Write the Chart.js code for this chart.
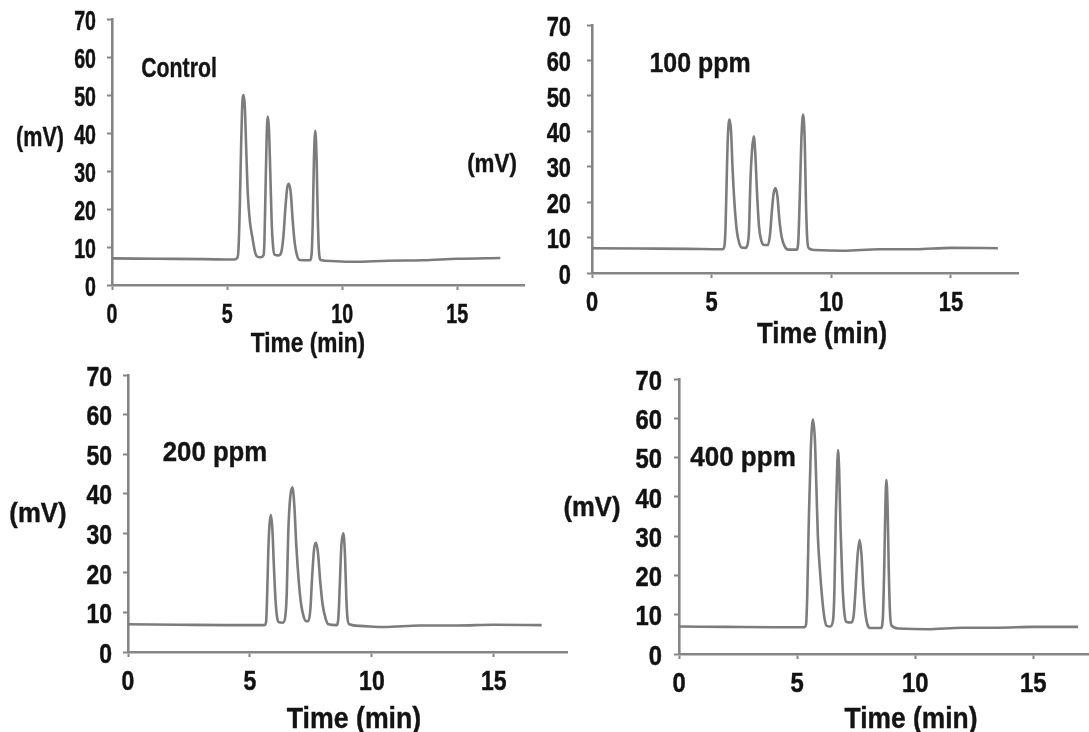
<!DOCTYPE html>
<html><head><meta charset="utf-8">
<script src="https://cdn.jsdelivr.net/npm/chart.js@4.4.1/dist/chart.umd.min.js"></script>
<style>
html,body{margin:0;padding:0;background:#fff;width:1089px;height:732px;overflow:hidden;position:relative}
canvas{position:absolute}
.lbl{position:absolute;white-space:nowrap;font-family:'Liberation Sans',Arial,sans-serif;font-weight:bold;color:#141414;line-height:1;-webkit-text-stroke:0.4px #141414}
</style></head><body>
<script>
// ---- data ----
const panelNames = ['Control', '100 ppm', '200 ppm', '400 ppm'];
const yUnitLabel = '(mV)';
const xAxisTitle = 'Time (min)';
const xTickValues = [0, 5, 10, 15];
const yTickValues = [0, 10, 20, 30, 40, 50, 60, 70];

const controlTime = [0,2,4,5.3,5.45,5.5,5.55,5.6,5.65,5.71,5.77,5.83,5.9,6.0,6.1,6.22,6.3,6.45,6.58,6.62,6.67,6.72,6.77,6.82,6.88,6.94,7.0,7.06,7.25,7.35,7.45,7.53,7.61,7.69,7.77,7.85,7.94,8.03,8.15,8.6,8.67,8.72,8.77,8.83,8.89,8.94,8.99,9.07,9.5,10.5,12,13.5,15,16.87];
const controlMv   = [7.0,6.9,6.8,6.7,7.2,10,20,34,46,50,47,36,24,16.3,12.5,8.5,7.5,7.3,7.8,11,25,39,44.3,41,29,16,10,8,7.8,8.5,13,20,25.5,26.6,24,17,11,8,6.6,6.5,8,16,32,40.6,33,18,9,6.6,6.3,6.1,6.4,6.5,6.9,7.1];

const ppm100Time = [0,2,4,5.45,5.53,5.58,5.63,5.68,5.75,5.81,5.87,5.95,6.05,6.15,6.25,6.4,6.5,6.56,6.62,6.69,6.76,6.82,6.9,6.98,7.08,7.2,7.35,7.44,7.51,7.59,7.67,7.75,7.83,7.93,8.05,8.2,8.55,8.62,8.68,8.75,8.82,8.89,8.94,8.99,9.06,9.3,10.5,12,13.5,15,16.96];
const ppm100Mv   = [7.0,6.9,6.8,6.7,7.5,13,27,39,43.3,40,30,20,12,8.5,7.2,7.1,8,12,26,35,38.6,34,22,13,9,7.9,7.9,11,17,22.5,24,21.5,15,10,7.5,6.6,6.6,9,21,38,44.7,37,20,10,7,6.5,6.3,6.7,6.7,7.1,7.0];

const ppm200Time = [0,2,4,5.6,5.66,5.7,5.75,5.8,5.86,5.92,5.98,6.05,6.12,6.2,6.35,6.45,6.51,6.57,6.65,6.74,6.82,6.9,7.0,7.1,7.2,7.3,7.4,7.48,7.55,7.63,7.71,7.79,7.88,7.98,8.1,8.22,8.55,8.63,8.69,8.75,8.83,8.9,8.95,9.0,9.08,9.5,10.5,12,13.5,15,16.96];
const ppm200Mv   = [7.0,6.9,6.8,6.8,7.5,13,25,32,34.6,31,22,13,8.5,7.5,7.4,9,15,30,39,41.6,37,27,18,12,9,7.8,7.8,11,19,26,27.6,25,18,12,8.5,7.0,6.8,9,18,27,30,24,14,8.5,7,6.6,6.3,6.7,6.7,6.9,6.8];

const ppm400Time = [0,2,4,5.3,5.38,5.43,5.5,5.58,5.67,5.75,5.82,5.88,5.96,6.05,6.15,6.25,6.4,6.52,6.58,6.64,6.7,6.73,6.78,6.84,6.92,7.0,7.08,7.3,7.4,7.47,7.56,7.65,7.73,7.8,7.88,7.98,8.1,8.55,8.63,8.69,8.74,8.78,8.83,8.88,8.93,9.0,9.3,10.5,12,13.5,15,16.9];
const ppm400Mv   = [7.0,6.9,6.8,6.8,7.5,15,35,52,59.7,55,42,30,22,15,9.5,7.2,7.0,8.5,16,35,48,51.9,47,32,18,10.5,8.2,8.0,10,16,25,29,25,17,11,7.5,6.6,6.6,9,22,38,44.3,38,22,11,7.2,6.5,6.3,6.7,6.7,6.9,6.9];

const seriesTime = [controlTime, ppm100Time, ppm200Time, ppm400Time];
const seriesMv = [controlMv, ppm100Mv, ppm200Mv, ppm400Mv];

// ---- layout (pixel geometry and text styling of each panel) ----
const FONT = "'Liberation Sans',Arial,sans-serif";
// label spec: [centerX, centerY, fontSize, horizontalScale]
const layout = [
  {L:111.9, R:523.6, T:19,    B:285,   xMax:17.9,  tick:28, tsx:0.70, ypad:11,
   name:[178.6,68.3,28,0.76], unit:[39.6,136.7,27,0.80], title:[308,343.3,28,0.81]},
  {L:591.5, R:1017.8,T:24.7,  B:272.5, xMax:17.8,  tick:28, tsx:0.78, ypad:16,
   name:[700,63.3,28,0.89],   unit:[491.5,163.3,26,0.86], title:[821.5,333.3,29,0.89]},
  {L:127.9, R:567.1, T:375.2, B:651.7, xMax:18.0,  tick:28, tsx:0.82, ypad:11,
   name:[214.8,451.7,28,0.92],unit:[37.5,513.3,28,0.92],  title:[353.6,718.3,29,0.92]},
  {L:679.4, R:1089,  T:379.1, B:654.2, xMax:17.36, tick:28, tsx:0.85, ypad:12,
   name:[743,456.7,28,0.93],  unit:[591.7,506.7,27,0.95], title:[911,718.3,29,0.91]}
];

function addLabel(text, spec){
  const d = document.createElement('div');
  d.className = 'lbl';
  d.textContent = text;
  d.style.left = spec[0] + 'px';
  d.style.top = spec[1] + 'px';
  d.style.fontSize = spec[2] + 'px';
  d.style.transform = 'translate(-50%,-50%) scaleX(' + spec[3] + ')';
  document.body.appendChild(d);
}

const AXIS = '#858585';
function makeChart(i){
  const p = layout[i];
  const W = 80, padTop = 45, padRight = 2, H = 50;
  const cv = document.createElement('canvas');
  const left = Math.round(p.L) - W, top = Math.round(p.T) - padTop;
  const width = W + Math.round(p.R - p.L) + padRight;
  const height = padTop + Math.round(p.B - p.T) + H;
  cv.width = width; cv.height = height;
  cv.style.left = left + 'px'; cv.style.top = top + 'px';
  cv.style.width = width + 'px'; cv.style.height = height + 'px';
  document.body.appendChild(cv);
  // condensed tick lettering: squeeze text horizontally around its anchor point
  const ctx = cv.getContext('2d');
  const sx = p.tsx;
  ['fillText', 'strokeText'].forEach(fn => {
    const nativeFn = ctx[fn].bind(ctx);
    ctx[fn] = function(text, x, y, mw){
      this.save(); this.translate(x, y); this.scale(sx, 1);
      if (mw === undefined) nativeFn(text, 0, 0); else nativeFn(text, 0, 0, mw / sx);
      this.restore();
    };
  });
  const pts = seriesTime[i].map((t, k) => ({x: t, y: seriesMv[i][k]}));
  const tickFont = {family: FONT, size: p.tick, weight: 'bold'};
  new Chart(cv, {
    type: 'line',
    data: {datasets: [{data: pts, borderColor: '#7c7c7c', borderWidth: 2.6, pointRadius: 0,
      cubicInterpolationMode: 'monotone', fill: false}]},
    options: {
      responsive: false, animation: false, events: [], devicePixelRatio: 1,
      layout: {padding: {left: 0, top: padTop, right: padRight, bottom: 0}},
      plugins: {legend: {display: false}, tooltip: {enabled: false}},
      scales: {
        x: {type: 'linear', min: 0, max: p.xMax,
          afterBuildTicks: s => { s.ticks = xTickValues.map(v => ({value: v})); },
          afterFit: s => { s.height = H; },
          grid: {display: true, drawOnChartArea: false, drawTicks: true, tickLength: 5, tickWidth: 2, tickColor: AXIS},
          border: {display: true, color: AXIS, width: 2.6},
          ticks: {font: tickFont, color: '#111', padding: 8, maxRotation: 0, autoSkip: false,
                  textStrokeWidth: 0.5, textStrokeColor: '#111'}},
        y: {type: 'linear', min: 0, max: 70,
          afterBuildTicks: s => { s.ticks = yTickValues.map(v => ({value: v})); },
          afterFit: s => { s.width = W; },
          grid: {display: true, drawOnChartArea: false, drawTicks: true, tickLength: 5, tickWidth: 2, tickColor: AXIS},
          border: {display: true, color: AXIS, width: 2.6},
          ticks: {font: tickFont, color: '#111', padding: p.ypad, labelOffset: 3, autoSkip: false,
                  textStrokeWidth: 0.5, textStrokeColor: '#111'}}
      }
    }
  });
  addLabel(panelNames[i], p.name);
  addLabel(yUnitLabel, p.unit);
  addLabel(xAxisTitle, p.title);
}
for (let i = 0; i < 4; i++) makeChart(i);
</script>
</body></html>
